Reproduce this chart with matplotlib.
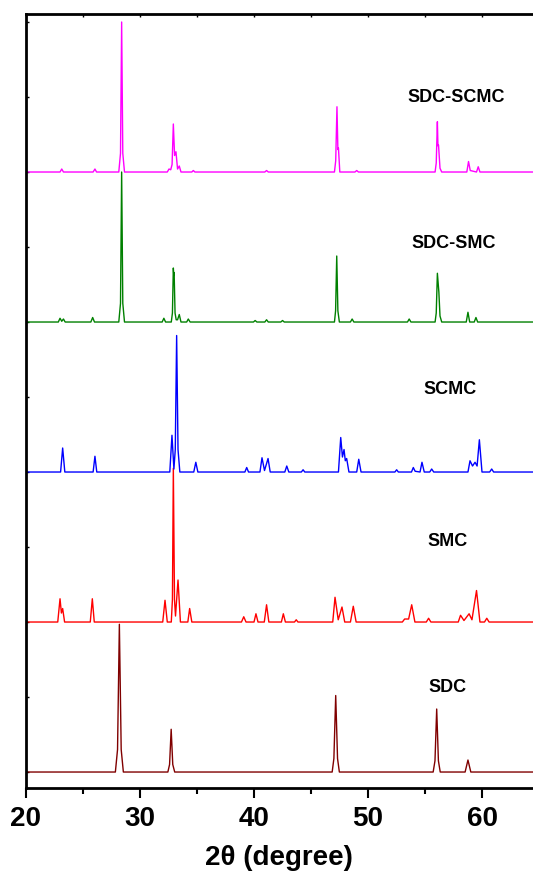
import numpy as np
import matplotlib.pyplot as plt

plt.rcParams['font.family'] = ['Liberation Sans', 'DejaVu Sans']

# XRD profiles: (2theta, intensity above own baseline, in y-tick units)
sdc = [(20, 0), (27.85, 0), (28.04, 0.3), (28.2, 1.97), (28.36, 0.3), (28.55, 0),
       (32.45, 0), (32.6, 0.1), (32.74, 0.57), (32.88, 0.1), (33.05, 0),
       (46.85, 0), (47.0, 0.18), (47.16, 1.02), (47.32, 0.18), (47.48, 0),
       (55.7, 0), (55.86, 0.15), (56.01, 0.84), (56.16, 0.15), (56.32, 0),
       (58.5, 0), (58.75, 0.16), (59.0, 0), (64.5, 0)]

smc = [(20, 0), (22.8, 0), (23.0, 0.31), (23.12, 0.12), (23.23, 0.18), (23.4, 0),
       (25.65, 0), (25.83, 0.31), (26.0, 0),
       (32.0, 0), (32.2, 0.29), (32.4, 0),
       (32.75, 0), (32.85, 0.3), (32.93, 2.05), (33.03, 0.3), (33.12, 0.08),
       (33.34, 0.56), (33.55, 0),
       (34.2, 0), (34.36, 0.18), (34.55, 0),
       (38.9, 0), (39.1, 0.07), (39.3, 0),
       (40.0, 0), (40.17, 0.11), (40.35, 0),
       (40.9, 0), (41.1, 0.23), (41.3, 0),
       (42.4, 0), (42.57, 0.11), (42.75, 0),
       (43.55, 0), (43.7, 0.03), (43.85, 0),
       (46.9, 0), (47.1, 0.33), (47.38, 0.03), (47.71, 0.2), (47.95, 0),
       (48.45, 0), (48.7, 0.21), (48.95, 0),
       (53.0, 0), (53.2, 0.04), (53.55, 0.04), (53.82, 0.23), (54.1, 0),
       (55.1, 0), (55.3, 0.05), (55.5, 0),
       (57.9, 0), (58.1, 0.09), (58.4, 0.02), (58.85, 0.11), (59.1, 0.03),
       (59.5, 0.42), (59.8, 0),
       (60.2, 0), (60.4, 0.05), (60.6, 0), (64.5, 0)]

scmc = [(20, 0), (23.05, 0), (23.23, 0.32), (23.42, 0),
        (25.9, 0), (26.06, 0.21), (26.22, 0),
        (32.62, 0), (32.81, 0.49), (32.98, 0.04), (33.1, 0.3), (33.22, 1.82),
        (33.34, 0.3), (33.5, 0),
        (34.72, 0), (34.9, 0.13), (35.08, 0),
        (39.2, 0), (39.36, 0.06), (39.52, 0),
        (40.52, 0), (40.7, 0.19), (40.92, 0.02), (41.23, 0.18), (41.42, 0),
        (42.7, 0), (42.87, 0.08), (43.05, 0),
        (44.15, 0), (44.3, 0.03), (44.45, 0),
        (47.4, 0), (47.6, 0.46), (47.75, 0.2), (47.89, 0.3), (48.0, 0.15),
        (48.12, 0.18), (48.32, 0),
        (49.0, 0), (49.18, 0.17), (49.38, 0),
        (52.35, 0), (52.5, 0.03), (52.65, 0),
        (53.8, 0), (53.96, 0.06), (54.12, 0.01), (54.55, 0), (54.72, 0.13), (54.92, 0),
        (55.4, 0), (55.57, 0.04), (55.75, 0),
        (58.75, 0), (58.93, 0.15), (59.15, 0.08), (59.37, 0.13), (59.55, 0.08),
        (59.75, 0.43), (59.98, 0),
        (60.65, 0), (60.83, 0.04), (61.0, 0), (64.5, 0)]

sdc_smc = [(20, 0), (22.85, 0), (23.0, 0.05), (23.15, 0.01), (23.3, 0.04), (23.45, 0),
           (25.7, 0), (25.86, 0.06), (26.02, 0),
           (28.15, 0), (28.3, 0.25), (28.4, 2.0), (28.5, 0.25), (28.65, 0),
           (31.95, 0), (32.1, 0.05), (32.25, 0),
           (32.75, 0), (32.85, 0.12), (32.93, 0.72), (32.97, 0.62), (33.0, 0.66),
           (33.08, 0.12), (33.18, 0.03), (33.3, 0.03), (33.45, 0.1), (33.6, 0),
           (34.1, 0), (34.24, 0.04), (34.4, 0),
           (39.95, 0), (40.1, 0.02), (40.25, 0),
           (40.95, 0), (41.1, 0.03), (41.25, 0),
           (42.35, 0), (42.5, 0.02), (42.65, 0),
           (47.05, 0), (47.15, 0.15), (47.25, 0.88), (47.35, 0.15), (47.48, 0),
           (48.45, 0), (48.6, 0.04), (48.75, 0),
           (53.45, 0), (53.6, 0.04), (53.75, 0),
           (55.87, 0), (55.97, 0.12), (56.07, 0.65), (56.2, 0.4), (56.3, 0.08), (56.45, 0),
           (58.6, 0), (58.75, 0.13), (58.9, 0),
           (59.3, 0), (59.45, 0.06), (59.6, 0), (64.5, 0)]

sdc_scmc = [(20, 0), (23.0, 0), (23.15, 0.04), (23.3, 0),
            (25.9, 0), (26.06, 0.04), (26.2, 0),
            (28.15, 0), (28.3, 0.25), (28.4, 2.0), (28.5, 0.25), (28.65, 0),
            (32.4, 0), (32.55, 0.04), (32.7, 0.03), (32.82, 0.1), (32.93, 0.64),
            (33.04, 0.22), (33.16, 0.27), (33.3, 0.04), (33.45, 0.08), (33.6, 0),
            (34.55, 0), (34.68, 0.02), (34.82, 0),
            (40.95, 0), (41.1, 0.02), (41.25, 0),
            (47.05, 0), (47.16, 0.15), (47.27, 0.87), (47.35, 0.3), (47.4, 0.32),
            (47.52, 0),
            (48.85, 0), (49.0, 0.02), (49.15, 0),
            (55.87, 0), (55.97, 0.12), (56.07, 0.67), (56.12, 0.35), (56.17, 0.36),
            (56.3, 0.05), (56.45, 0),
            (58.65, 0), (58.8, 0.14), (58.95, 0.02), (59.5, 0), (59.65, 0.07), (59.8, 0),
            (64.5, 0)]

names = ['SDC', 'SMC', 'SCMC', 'SDC-SMC', 'SDC-SCMC']
offsets = [0, 2, 4, 6, 8]
patterns = [sdc, smc, scmc, sdc_smc, sdc_scmc]
colors = ['#800000', '#FF0000', '#0000FF', '#008000', '#FF00FF']
label_xy = [(57.0, 1.13), (57.0, 3.08), (57.2, 5.1), (57.5, 7.05), (57.7, 8.99)]

fig = plt.figure(figsize=(5.33, 8.74), dpi=100)
ax = fig.add_axes([0.0484, 0.0984, 0.9516, 0.8856])

for pat, off, c in zip(patterns, offsets, colors):
    xy = np.array(pat)
    ax.plot(xy[:, 0], xy[:, 1] + off, color=c, lw=1.0)

for name, (lx, ly) in zip(names, label_xy):
    ax.text(lx, ly, name, ha='center', va='center', fontsize=13, fontweight='bold')

ax.set_xlim(20, 64.45)
ax.set_ylim(-0.213, 10.107)
ax.spines['right'].set_visible(False)
for s in ['left', 'bottom', 'top']:
    ax.spines[s].set_linewidth(2)

ax.set_xticks([20, 30, 40, 50, 60])
ax.set_xticks([25, 35, 45, 55], minor=True)
ax.tick_params(axis='x', which='major', direction='out', length=7, width=1.5,
               labelsize=20, pad=6)
ax.tick_params(axis='x', which='minor', direction='out', length=4, width=1.5)
for lbl in ax.get_xticklabels():
    lbl.set_fontweight('bold')

ax.set_yticks(np.arange(0, 11))
ax.tick_params(axis='y', direction='in', length=2, width=1, labelleft=False)

top = ax.secondary_xaxis('top')
top.set_xticks([20, 25, 30, 35, 40, 45, 50, 55, 60])
top.tick_params(direction='in', length=2, width=1, labeltop=False)

ax.set_xlabel('2\u03b8 (degree)', fontsize=20, fontweight='bold', labelpad=9)

fig.savefig('out.png', dpi=100)
